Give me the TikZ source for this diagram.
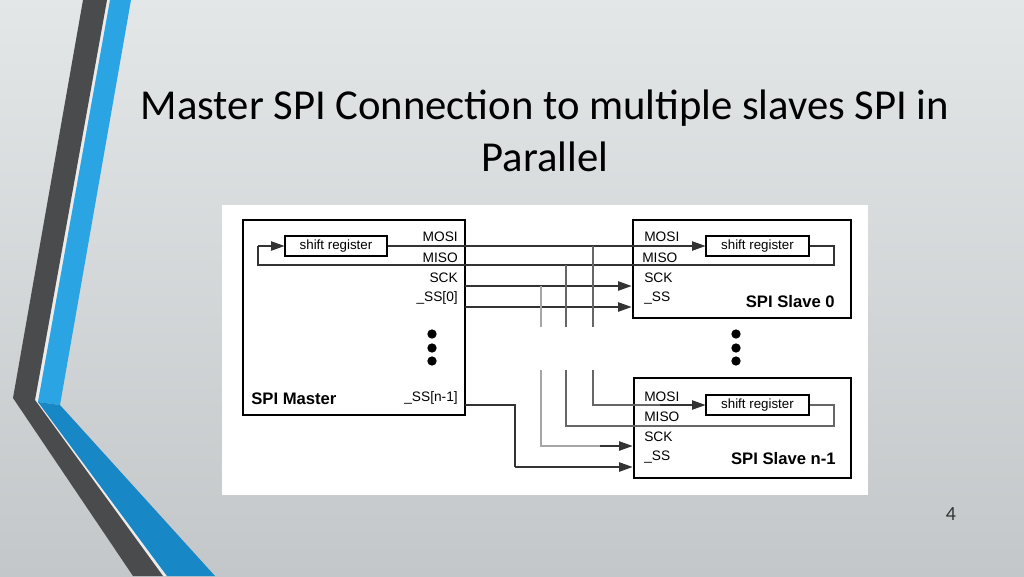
\documentclass[tikz,border=0pt]{standalone}
\usepackage{fontspec}
\setmainfont{Carlito}
\newfontfamily\arial{Liberation Sans}
\usetikzlibrary{arrows.meta}
\definecolor{stripdark}{HTML}{4A4B4D}
\definecolor{stripblue}{HTML}{2AA4E2}
\definecolor{stripblue2}{HTML}{1787C6}
\definecolor{bgtop}{HTML}{E4E7E8}
\definecolor{bgbot}{HTML}{C3C7C9}
\begin{document}
\begin{tikzpicture}[x=0.75pt,y=-0.75pt,
  box/.style={draw=black,line width=2.2pt,fill=white},
  reg/.style={draw=black,line width=0.8pt,fill=white,inner sep=0pt,font=\arial\fontsize{10}{10}\selectfont},
  sig/.style={font=\arial\fontsize{10.3}{10}\selectfont,inner sep=0pt},
  lbl/.style={font=\arial\bfseries\fontsize{12.5}{12}\selectfont,inner sep=0pt},
  wire/.style={line width=0.8pt,draw=black!80},
  tap/.style={line width=0.9pt,draw=black!60},
  tapl/.style={line width=0.9pt,draw=black!35},
  arr/.style={wire,-{Triangle[length=10pt,width=7pt]}},
  dot/.style={circle,fill=black,inner sep=0pt,minimum size=7pt}]
\useasboundingbox (0,0) rectangle (1024,576);
\shade[top color=bgtop, bottom color=bgbot] (0,0) rectangle (1024,576);
% strips
\fill[white!85!gray] (107,0)--(110,0)--(38,402)--(167,576)--(163,576)--(35,400)--cycle;
\fill[stripdark] (83,0)--(107,0)--(35,400)--(163,576)--(133,576)--(13,398)--cycle;
\fill[stripblue] (110,0)--(131,0)--(60,405)--(38,402)--cycle;
\fill[stripblue2] (38,402)--(60,405)--(215,576)--(167,576)--cycle;
% title
\node[font=\fontsize{32}{39}\selectfont,text=black,align=center] (title) at (545,131) {Master SPI Connection to multiple slaves SPI in\\Parallel};
\node[font=\fontsize{15}{15}\selectfont,text=black!80] (pg) at (951,514) {4};
% image area
\fill[white] (222,205) rectangle (868,495);
% boxes
\node[box,minimum width=166.5pt,minimum height=146.25pt] (master) at (354,317.5) {};
\node[box,minimum width=163.5pt,minimum height=73.5pt] (s0) at (742,269) {};
\node[box,minimum width=162.75pt,minimum height=75pt] (sn) at (742.5,428) {};
\node[reg,minimum width=76.5pt,minimum height=15pt] (mreg) at (336,246) {shift register};
\node[reg,minimum width=77.25pt,minimum height=15pt] (s0reg) at (757.5,246) {shift register};
\node[reg,minimum width=77.25pt,minimum height=15pt] (snreg) at (757.5,405) {shift register};
% master labels
\node[sig,anchor=east] (mmosi) at (458,237) {MOSI};
\node[sig,anchor=east] (mmiso) at (458,258) {MISO};
\node[sig,anchor=east] (msck) at (458,278) {SCK};
\node[sig,anchor=east] (mss0) at (458,298) {\_SS[0]};
\node[sig,anchor=east] (mssn) at (458,398) {\_SS[n-1]};
\node[lbl,anchor=west] (mlbl) at (251,399) {SPI Master};
\node[dot] (md1) at (432,334) {};\node[dot] (md2) at (432,348) {};\node[dot] (md3) at (432,361) {};
% slave 0 labels
\node[sig,anchor=west] (amosi) at (644,237) {MOSI};
\node[sig,anchor=west] (amiso) at (642,258) {MISO};
\node[sig,anchor=west] (asck) at (644,278) {SCK};
\node[sig,anchor=west] (ass) at (644,298) {\_SS};
\node[lbl,anchor=east] (albl) at (835,302) {SPI Slave 0};
% slave n-1 labels
\node[sig,anchor=west] (bmosi) at (644,397) {MOSI};
\node[sig,anchor=west] (bmiso) at (644,417) {MISO};
\node[sig,anchor=west] (bsck) at (644,437) {SCK};
\node[sig,anchor=west] (bss) at (644,457) {\_SS};
\node[lbl,anchor=east] (blbl) at (836,459) {SPI Slave n-1};
\node[dot] (sd1) at (736,334) {};\node[dot] (sd2) at (736,348) {};\node[dot] (sd3) at (736,361) {};
% coordinates
\coordinate (mL) at (258,265);
\coordinate (mR) at (465,265);
\coordinate (s0loop) at (834,265);
\coordinate (snloop) at (834,426);
% master loop
\draw[wire] (mR) -- (mL) -- (258,246);
\draw[arr] (258,246) -- (mreg.west);
% MOSI
\draw[arr] (mreg.east) -- (s0reg.west);
% MISO to slave 0
\draw[wire] (mR) -- (s0loop) |- (s0reg.east);
% SCK, SS0
\draw[arr] (465,286) -- (s0.west |- 0,286);
\draw[arr] (465,307) -- (s0.west |- 0,307);
% taps
\draw[tap] (593,246) -- (593,327);
\draw[tap] (566,265) -- (566,327);
\draw[tapl] (541,286) -- (541,327);
\draw[tap] (593,370) |- (660,405);
\draw[arr] (660,405) -- (snreg.west);
\draw[tap] (566,370) |- (snloop) |- (snreg.east);
\draw[tapl] (541,370) |- (600,446);
\draw[arr] (600,446) -- (sn.west |- 0,446);
% SS n-1
\draw[wire] (465,405) -| (515,467);
\draw[arr] (515,467) -- (sn.west |- 0,467);
\end{tikzpicture}
\end{document}
